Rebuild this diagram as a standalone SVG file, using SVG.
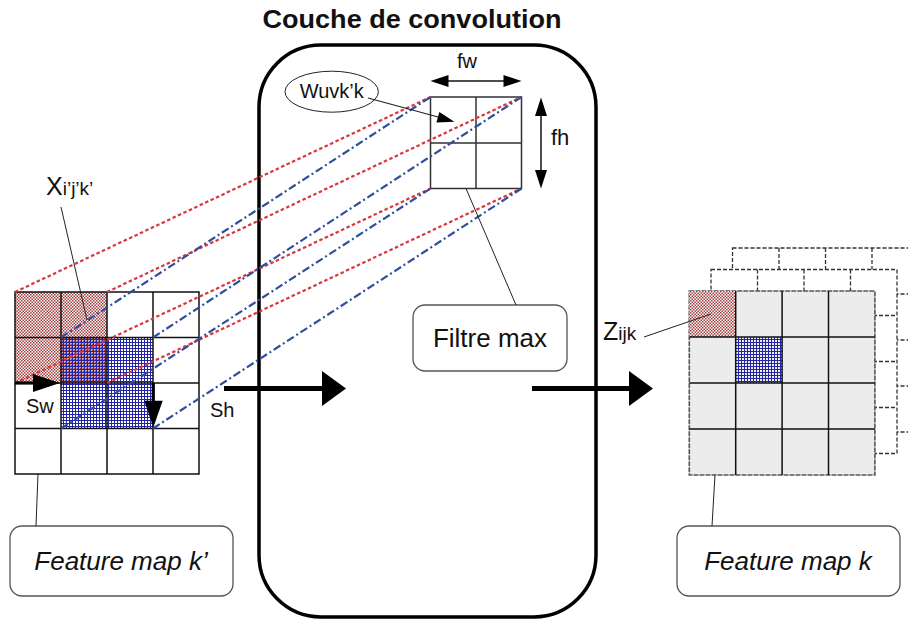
<svg xmlns="http://www.w3.org/2000/svg" width="908" height="621" viewBox="0 0 908 621">
<style>
text{font-family:"Liberation Sans",Arial,sans-serif;fill:#111}
.g{fill:none;stroke:#111;stroke-width:1.5}
.gd{fill:#fff;stroke:#333;stroke-width:1.3;stroke-dasharray:4 2}
.gdl{fill:none;stroke:#333;stroke-width:1.3;stroke-dasharray:4 2}
.box{fill:#fff;stroke:#555;stroke-width:1.3}
.red{fill:none;stroke:#d9363e;stroke-width:2.2;stroke-dasharray:3.5 2.5}
.blue{fill:none;stroke:#2f4e9c;stroke-width:2.2;stroke-dasharray:8 3 2 3}
.lead{fill:none;stroke:#222;stroke-width:1}
.big{stroke:#000;stroke-width:5}
</style>
<defs>
<pattern id="pr" width="3" height="3" patternUnits="userSpaceOnUse"><rect width="3" height="3" fill="#fff"/><rect width="1.5" height="1.5" fill="#a03c3c"/><rect x="1.5" y="1.5" width="1.5" height="1.5" fill="#a03c3c"/></pattern>
<pattern id="pb" width="3" height="3" patternUnits="userSpaceOnUse"><rect width="3" height="1" fill="#2424a6"/><rect width="1" height="3" fill="#2424a6"/></pattern>
</defs>

<text x="412" y="28" text-anchor="middle" font-size="26" font-weight="bold" textLength="299" lengthAdjust="spacingAndGlyphs">Couche de convolution</text>

<g id="couche">
<rect x="259" y="45" width="337" height="572" rx="62" fill="none" stroke="#000" stroke-width="3.5"/>
</g>

<g id="feature-map-in">
<rect x="15" y="292" width="184" height="182" fill="#fff"/>
<rect x="15" y="292" width="46" height="45.5" fill="url(#pr)"/>
<rect x="61" y="292" width="46" height="45.5" fill="url(#pr)"/>
<rect x="15" y="337.5" width="46" height="45.5" fill="url(#pr)"/>
<rect x="61" y="337.5" width="46" height="45.5" fill="url(#pr)"/>
<rect x="61" y="337.5" width="46" height="45.5" fill="url(#pb)"/>
<rect x="107" y="337.5" width="46" height="45.5" fill="url(#pb)"/>
<rect x="61" y="383" width="46" height="45.5" fill="url(#pb)"/>
<rect x="107" y="383" width="46" height="45.5" fill="url(#pb)"/>
<path class="g" d="M15 292H199V474H15Z M61 292V474 M107 292V474 M153 292V474 M15 337.5H199 M15 383H199 M15 428.5H199"/>
</g>

<g id="feature-map-out">
<rect class="gd" x="732.5" y="248" width="186" height="184"/>
<path class="gdl" d="M779 248V432 M825.5 248V432 M872 248V432 M732.5 294H918.5 M732.5 340H918.5 M732.5 386H918.5"/>
<rect class="gd" x="711" y="269.5" width="186" height="184"/>
<path class="gdl" d="M757.5 269.5V453.5 M804 269.5V453.5 M850.5 269.5V453.5 M711 315.5H897 M711 361.5H897 M711 407.5H897"/>
<rect x="689.3" y="291" width="185.6" height="184" fill="#ececec" stroke="#555" stroke-width="1.6" stroke-dasharray="5 1"/>
<rect x="689.3" y="291" width="46.4" height="46" fill="url(#pr)"/>
<rect x="735.7" y="337" width="46.4" height="46" fill="#ececec"/>
<rect x="735.7" y="337" width="46.4" height="46" fill="url(#pb)"/>
<path class="g" d="M735.7 291V475 M782.1 291V475 M828.5 291V475 M689.3 337H874.9 M689.3 383H874.9 M689.3 429H874.9"/>
</g>

<g id="filtre">
<path fill="none" stroke="#333" stroke-width="1.5" d="M430.5 97H521.5V188.5H430.5Z M476 97V188.5 M430.5 143H521.5"/>
</g>

<g id="poids">
<ellipse cx="331.7" cy="91.7" rx="46.7" ry="20.5" fill="#fff" stroke="#222" stroke-width="1"/>
<text x="331.7" y="98" text-anchor="middle" font-size="20">Wuvk’k</text>
</g>

<g id="filtre-max">
<rect class="box" x="413" y="305" width="154" height="66" rx="12"/>
<text x="490" y="347" text-anchor="middle" font-size="26">Filtre max</text>
</g>

<g id="label-in">
<rect class="box" x="10" y="526" width="223" height="70" rx="12"/>
<text x="121" y="570" text-anchor="middle" font-size="26" font-style="italic">Feature map k’</text>
</g>

<g id="label-out">
<rect class="box" x="677" y="526" width="223" height="70" rx="12"/>
<text x="788" y="570" text-anchor="middle" font-size="26" font-style="italic">Feature map k</text>
</g>

<g id="labels">
<text x="46" y="195" font-size="25">X<tspan font-size="19">i’j’k’</tspan></text>
<text x="603" y="340" font-size="25">Z<tspan font-size="19">ijk</tspan></text>
<text x="467" y="68" text-anchor="middle" font-size="20">fw</text>
<text x="551" y="145" font-size="22">fh</text>
<text x="26" y="413" font-size="20">Sw</text>
<text x="210" y="417" font-size="20">Sh</text>
</g>

<g id="connectors">
<path class="red" d="M15 292L430.5 97 M107 292L521.5 97 M15 383L430.5 188.5 M107 383L521.5 188.5"/>
<path class="blue" d="M61 337.5L430.5 97 M153 337.5L521.5 97 M61 428.5L430.5 188.5 M153 428.5L521.5 188.5"/>
<path class="lead" d="M61 207L87 320 M38 474L36 526 M715 475L712 526 M644 337L711 314 M466 188.5L516 305"/>
<path d="M368 98L440 117.5" stroke="#222" stroke-width="1.2"/>
<polygon points="454.3,121.7 436.4,122.5 439.4,111.9" fill="#000"/>
<path d="M447 81H505" stroke="#111" stroke-width="1.5"/>
<polygon points="430.5,81 448.5,75 448.5,87" fill="#000"/>
<polygon points="521.5,81 503.5,75 503.5,87" fill="#000"/>
<path d="M541 114V172" stroke="#111" stroke-width="1.5"/>
<polygon points="541,97.5 535,116 547,116" fill="#000"/>
<polygon points="541,188.5 535,170 547,170" fill="#000"/>
<path d="M15 383H36" stroke="#000" stroke-width="3.2"/>
<polygon points="33,374 60,383 33,392" fill="#000"/>
<path d="M153.3 383V402" stroke="#000" stroke-width="3.2"/>
<polygon points="144.3,400.7 162.7,400.7 153.3,427.5" fill="#000"/>
<path class="big" d="M224 388.5H324"/>
<polygon points="322,371 346,388.5 322,406" fill="#000"/>
<path class="big" d="M532 388.5H632"/>
<polygon points="629,371 653,388.5 629,406" fill="#000"/>
</g>
</svg>
